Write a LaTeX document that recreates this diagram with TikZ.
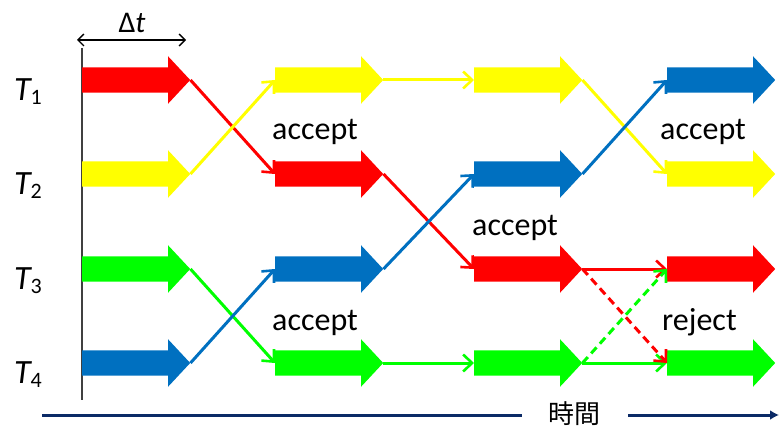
\documentclass[tikz,border=0pt]{standalone}
\usepackage{fontspec}
\setmainfont{Carlito}
\newfontfamily\cjk{Noto Sans CJK JP}
\usetikzlibrary{shapes.arrows,arrows.meta}
\definecolor{tred}{HTML}{FF0000}
\definecolor{tyellow}{HTML}{FFFF00}
\definecolor{tgreen}{HTML}{00FF00}
\definecolor{tblue}{HTML}{0070C0}
\definecolor{axisnavy}{HTML}{0B2A66}
\begin{document}
\begin{tikzpicture}[x=1pt,y=-1pt,
  fat/.style={single arrow, fill=#1, draw=none, inner xsep=0pt, inner ysep=12.5pt,
    single arrow head extend=11pt, single arrow tip angle=94,
    single arrow head indent=0pt, minimum height=108pt, anchor=tail},
  link/.style={draw=#1, line width=3pt, -{Straight Barb[length=9pt,width=17pt,line width=2.6pt]}},
  dlink/.style={link=#1, dash pattern=on 8pt off 5pt},
  lbl/.style={font=\fontsize{32}{36}\selectfont, anchor=base west, inner sep=0pt},
  tlabel/.style={font=\fontsize{34}{36}\selectfont, inner sep=0pt}
]
\useasboundingbox (0,0) rectangle (779,433);

% time base line and interval marker
\draw[line width=1.5pt, black!75] (82,48) coordinate (vtop) -- (82,400) coordinate (vbot);
\draw[line width=1.3pt, {Straight Barb[length=6pt,width=12pt]}-{Straight Barb[length=6pt,width=12pt]}]
  (77,40) coordinate (dtl) -- (186,40) coordinate (dtr);
\node[font=\fontsize{30}{32}\selectfont, inner sep=0pt, anchor=base] (dt) at (132,33) {Δ{\itshape t}};

% thread labels
\foreach \i/\y in {1/80,2/174,3/269,4/363}
  \node[tlabel] (T\i) at (28,\y+12) {{\itshape T}\raisebox{-4pt}{\fontsize{22}{22}\selectfont\i}};

% steps: column 1
\node[fat=tred]    (a11) at (82,80) {};
\node[fat=tyellow] (a12) at (82,174) {};
\node[fat=tgreen]  (a13) at (82,269) {};
\node[fat=tblue]   (a14) at (82,363) {};
% column 2
\node[fat=tyellow] (a21) at (275,80) {};
\node[fat=tred]    (a22) at (275,174) {};
\node[fat=tblue]   (a23) at (275,269) {};
\node[fat=tgreen]  (a24) at (275,363) {};
% column 3
\node[fat=tyellow] (a31) at (474,80) {};
\node[fat=tblue]   (a32) at (474,174) {};
\node[fat=tred]    (a33) at (474,269) {};
\node[fat=tgreen]  (a34) at (474,363) {};
% column 4
\node[fat=tblue]   (a41) at (667,80) {};
\node[fat=tyellow] (a42) at (667,174) {};
\node[fat=tred]    (a43) at (667,269) {};
\node[fat=tgreen]  (a44) at (667,363) {};

% exchanges between columns 1 and 2
\draw[link=tred]    (a11.tip) -- (a22.tail);
\draw[link=tyellow] (a12.tip) -- (a21.tail);
\draw[link=tgreen]  (a13.tip) -- (a24.tail);
\draw[link=tblue]   (a14.tip) -- (a23.tail);
% columns 2 and 3
\draw[link=tyellow] (a21.tip) -- (a31.tail);
\draw[link=tred]    (a22.tip) -- (a33.tail);
\draw[link=tblue]   (a23.tip) -- (a32.tail);
\draw[link=tgreen]  (a24.tip) -- (a34.tail);
% columns 3 and 4
\draw[link=tyellow] (a31.tip) -- (a42.tail);
\draw[link=tblue]   (a32.tip) -- (a41.tail);
\draw[link=tred]    (a33.tip) -- (a43.tail);
\draw[link=tgreen]  (a34.tip) -- (a44.tail);
\draw[dlink=tred]   (a33.tip) -- (a44.tail);
\draw[dlink=tgreen] (a34.tip) -- (a43.tail);

% outcome labels
\node[lbl] (acc1) at (272,140) {accept};
\node[lbl] (acc2) at (272,330) {accept};
\node[lbl] (acc3) at (472,235) {accept};
\node[lbl] (acc4) at (660,140) {accept};
\node[lbl] (rej)  at (662,330) {reject};

% time axis
\node[font=\cjk\fontsize{26}{28}\selectfont, inner sep=0pt] (time) at (574,414) {時間};
\coordinate (axl) at (42,415);
\coordinate (axr) at (779,415);
\draw[axisnavy, line width=3pt] (axl) -- (522,415);
\draw[axisnavy, line width=3pt, -{Latex[length=9pt,width=10pt]}] (628,415) -- (axr);
\end{tikzpicture}
\end{document}
